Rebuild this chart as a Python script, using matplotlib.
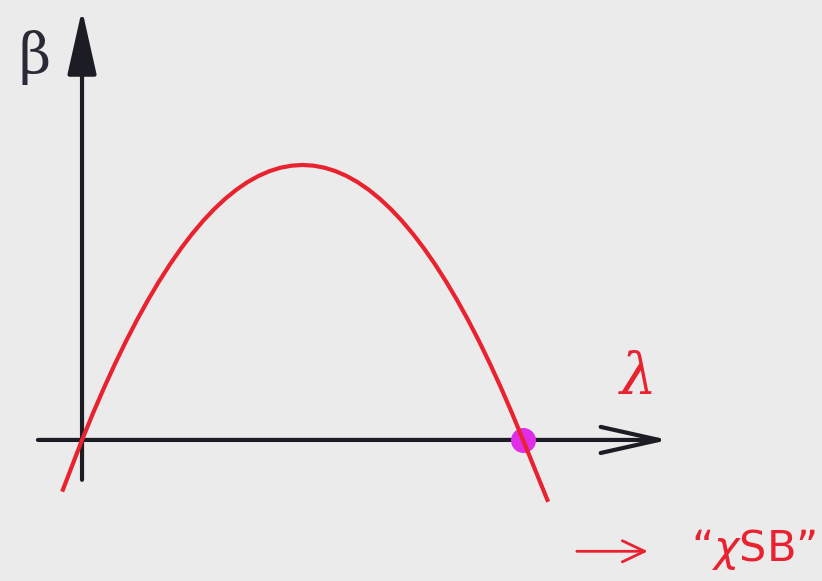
import matplotlib
matplotlib.use("Agg")
import matplotlib.pyplot as plt

# beta(lambda) sketch
lam = [-0.045, 0.0, 0.025, 0.05, 0.075, 0.10, 0.125, 0.15, 0.175, 0.20, 0.225,
       0.25, 0.275, 0.30, 0.325, 0.35, 0.375, 0.40, 0.425, 0.45, 0.475, 0.50,
       0.525, 0.55, 0.575, 0.60, 0.625, 0.65, 0.675, 0.70, 0.725, 0.75, 0.775,
       0.80, 0.825, 0.85, 0.875, 0.90, 0.925, 0.95, 0.975, 1.00, 1.057]
beta = [-0.188, 0.0, 0.0975, 0.19, 0.2775, 0.36, 0.4375, 0.51, 0.5775, 0.64,
        0.6975, 0.75, 0.7975, 0.84, 0.8775, 0.91, 0.9375, 0.96, 0.9775, 0.99,
        0.9975, 1.0, 0.9975, 0.99, 0.9775, 0.96, 0.9375, 0.91, 0.8775, 0.84,
        0.7975, 0.75, 0.6975, 0.64, 0.5775, 0.51, 0.4375, 0.36, 0.2775, 0.19,
        0.0975, 0.0, -0.225]
root_lam = [1.0]
root_beta = [0.0]

bg = "#ecebeb"
red = "#e8232f"
ink = "#1c1c24"

fig = plt.figure(figsize=(8.22, 5.81), dpi=100, facecolor=bg)
ax = fig.add_axes([0, 0, 1, 1], facecolor=bg)
ax.set_xlim(-0.186, 1.678)
ax.set_ylim(-0.513, 1.6)
ax.axis("off")

# axes with arrow heads
ax.annotate("", xy=(0, 1.565), xytext=(0, -0.145),
            arrowprops=dict(arrowstyle="-|>,head_length=2.0,head_width=0.45",
                            lw=3, color=ink, mutation_scale=20,
                            shrinkA=0, shrinkB=0))
ax.annotate("", xy=(1.33, 0), xytext=(-0.10, 0),
            arrowprops=dict(arrowstyle="->,head_length=2.1,head_width=0.47",
                            lw=3, color=ink, mutation_scale=20,
                            shrinkA=0, shrinkB=0))

ax.plot(root_lam, root_beta, "o", ms=18, color="#e02ee8", mec="none", zorder=3)
ax.plot(lam, beta, color=red, lw=3, solid_capstyle="butt",
        solid_joinstyle="round", zorder=4)

ax.text(-0.108, 1.39, "\u03b2", fontsize=40, family="DejaVu Serif",
        color="#2a2a36", ha="center", va="center")
ax.text(1.262, 0.225, "\u03bb", fontsize=42, family="DejaVu Serif",
        style="italic", color=red, ha="center", va="center")

# footnote: arrow to the symmetry-breaking point
ax.annotate("", xy=(1.283, -0.405), xytext=(1.122, -0.405),
            arrowprops=dict(arrowstyle="->,head_length=0.8,head_width=0.38",
                            lw=2, color=red, mutation_scale=20,
                            shrinkA=0, shrinkB=0))
ax.text(1.664, -0.40, "\u201c$\\chi$SB\u201d", fontsize=31,
        family="DejaVu Sans", color=red, ha="right", va="center")

fig.savefig("out.png", dpi=100, facecolor=bg)
